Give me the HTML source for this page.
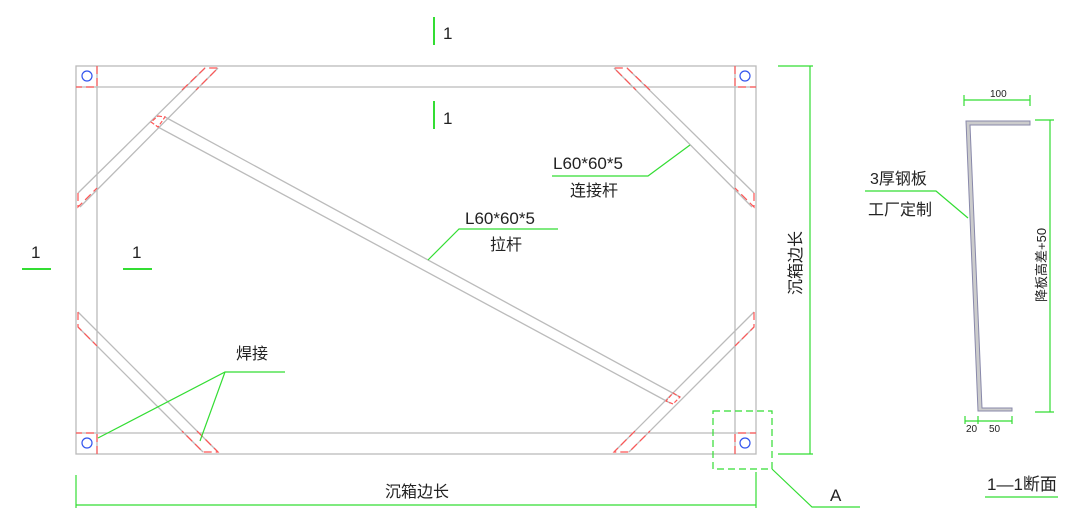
<!DOCTYPE html>
<html><head><meta charset="utf-8"><style>
html,body{margin:0;padding:0;background:#fff;width:1080px;height:521px;overflow:hidden}
svg{display:block}
text{font-family:"Liberation Sans","Noto Sans CJK SC",sans-serif;fill:#222}
</style></head><body>
<svg width="1080" height="521" viewBox="0 0 1080 521">
<g fill="none" stroke="#bbb" stroke-width="1.3">
<rect x="76" y="66" width="680" height="388"/>
<line x1="76" y1="87" x2="756" y2="87"/>
<line x1="76" y1="433" x2="756" y2="433"/>
<line x1="97" y1="66" x2="97" y2="454"/>
<line x1="735" y1="66" x2="735" y2="454"/>
<!-- braces -->
<line x1="205" y1="68" x2="78" y2="193"/><line x1="218" y1="68" x2="80" y2="207"/>
<line x1="627" y1="68" x2="754" y2="193"/><line x1="614" y1="68" x2="752" y2="207"/>
<line x1="78" y1="312" x2="218" y2="452"/><line x1="78" y1="327" x2="203" y2="452"/>
<line x1="754" y1="312" x2="614" y2="452"/><line x1="754" y1="327" x2="629" y2="452"/>
<line x1="165" y1="117" x2="680" y2="397"/><line x1="158" y1="127" x2="670" y2="403"/>
</g>
<g fill="none" stroke="#f55" stroke-width="1.2" stroke-dasharray="8,4">
<polyline points="78,193 78,207 97,188"/><polyline points="182,90 205,68 218,68 196,90"/>
<polyline points="754,193 754,207 735,188"/><polyline points="650,90 627,68 614,68 636,90"/>
<polyline points="78,312 78,327 97,346"/><polyline points="197,431 218,452 203,452 182,431"/>
<polyline points="754,312 754,327 735,346"/><polyline points="635,431 614,452 629,452 650,431"/>
<polygon points="158,116 165,117 158,127 151,122" stroke-dasharray="4,2"/>
<polygon points="673,393 680,397 673,404 666,401" stroke-dasharray="4,2"/>
<polyline points="97,66 97,87 76,87"/><polyline points="735,66 735,87 756,87"/>
<polyline points="97,454 97,433 76,433"/><polyline points="735,454 735,433 756,433"/>
</g>
<g fill="none" stroke="#3355ee" stroke-width="1.2">
<circle cx="87" cy="76" r="5"/><circle cx="745" cy="76" r="5"/>
<circle cx="87" cy="443" r="5"/><circle cx="745" cy="443" r="5"/>
</g>
<g fill="none" stroke="#33dd33" stroke-width="1.2">
<line x1="810" y1="66" x2="810" y2="454"/><line x1="778" y1="66" x2="813" y2="66"/><line x1="778" y1="454" x2="813" y2="454"/>
<line x1="76" y1="505" x2="756" y2="505"/><line x1="76" y1="475" x2="76" y2="508"/><line x1="756" y1="472" x2="756" y2="508"/>
<rect x="713" y="411" width="59" height="58" stroke-dasharray="7,4"/>
<polyline points="772,469 812,507 860,507"/>
<line x1="434" y1="17" x2="434" y2="45" stroke-width="2"/><line x1="434" y1="101" x2="434" y2="129" stroke-width="2"/>
<line x1="22" y1="269" x2="51" y2="269" stroke-width="2"/><line x1="123" y1="269" x2="152" y2="269" stroke-width="2"/>
<polyline points="690,145 648,176 552,176"/>
<polyline points="428,260 459,229 558,229"/>
<polyline points="98,438 225,372 285,372"/><line x1="225" y1="372" x2="200" y2="441"/>
<line x1="964" y1="100" x2="1030" y2="100"/><line x1="964" y1="95" x2="964" y2="106"/><line x1="1030" y1="95" x2="1030" y2="106"/>
<line x1="1050" y1="120" x2="1050" y2="412"/><line x1="1035" y1="120" x2="1054" y2="120"/><line x1="1035" y1="412" x2="1054" y2="412"/>
<line x1="965" y1="421" x2="1012" y2="421"/><line x1="965" y1="416" x2="965" y2="424"/><line x1="978" y1="416" x2="978" y2="424"/><line x1="1012" y1="416" x2="1012" y2="424"/>
<polyline points="968,218 936,191 865,191"/>
<line x1="985" y1="497" x2="1058" y2="497"/>
</g>
<g fill="#ccc" stroke="#8888aa" stroke-width="1">
<polygon points="966,121 1030,121 1030,125 970,125 982,408 1012,408 1012,411 978,411"/>
</g>
<text x="443" y="39" font-size="17">1</text>
<text x="443" y="124" font-size="17">1</text>
<text x="31" y="258" font-size="17">1</text>
<text x="132" y="258" font-size="17">1</text>
<text x="553" y="169" font-size="17">L60*60*5</text>
<text x="570" y="196" font-size="16">连接杆</text>
<text x="465" y="224" font-size="17">L60*60*5</text>
<text x="490" y="250" font-size="16">拉杆</text>
<text x="236" y="359" font-size="16">焊接</text>
<text x="385" y="497" font-size="16">沉箱边长</text>
<text x="830" y="501" font-size="17">A</text>
<text transform="translate(801,295) rotate(-90)" font-size="16">沉箱边长</text>
<text x="990" y="97" font-size="10">100</text>
<text x="966" y="432" font-size="10">20</text>
<text x="989" y="432" font-size="10">50</text>
<text transform="translate(1046,302) rotate(-90)" font-size="13">降板高差+50</text>
<text x="870" y="184" font-size="16">3厚钢板</text>
<text x="868" y="215" font-size="16">工厂定制</text>
<text x="987" y="490" font-size="17">1—1断面</text>
</svg>
</body></html>
